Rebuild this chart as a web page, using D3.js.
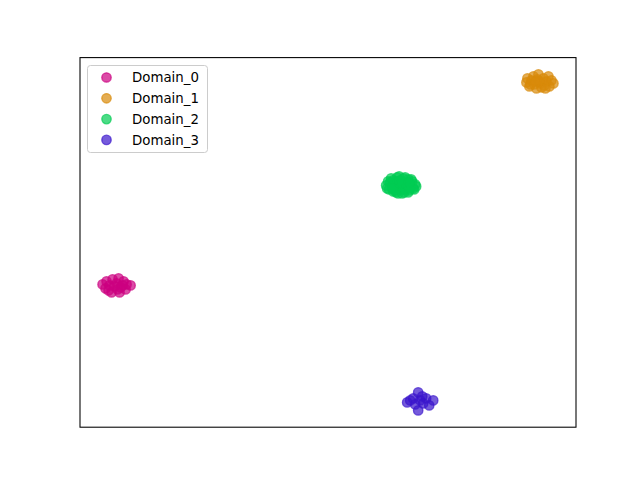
<!DOCTYPE html>
<html><head><meta charset="utf-8">
<script src="https://cdn.jsdelivr.net/npm/d3@7"></script>
<style>body{margin:0;background:#fff}svg{display:block}</style>
</head><body>
<svg id="chart" width="640" height="480"></svg>
<script>
const categories = ["Domain_0","Domain_1","Domain_2","Domain_3"];
const colors = ["#cc0080","#d98a0a","#00cc52","#3a16cc"];

const d0x = [-19.7,-19.4,-19.3,-19.0,-18.8,-18.7,-18.5,-18.3,-18.1,-18.0,-17.9,-17.6,-17.4,-17.3,-16.9,-19.1,-18.2,-17.7];
const d0y = [-3.4,-3.8,-3.1,-3.5,-4.2,-2.9,-3.6,-3.3,-2.8,-4.2,-3.7,-3.1,-3.9,-3.4,-3.5,-4.0,-3.9,-3.5];
const d1x = [22.6,22.7,22.9,23.1,23.3,23.4,23.6,23.7,23.8,24.0,24.1,24.3,24.4,24.6,24.8,24.9,25.1,25.3,23.0,23.9,24.5,23.5];
const d1y = [16.8,17.2,16.4,17.0,17.4,16.6,16.2,17.1,17.6,16.7,16.3,17.2,16.5,16.9,17.4,16.4,17.0,16.7,16.6,16.9,16.2,16.9];
const d2x = [8.6,8.8,8.9,9.1,9.2,9.3,9.5,9.6,9.7,9.8,9.9,10.0,10.1,10.2,10.3,10.4,10.5,10.6,10.8,10.9,11.0,11.2,11.3,11.5,11.6,9.4,10.7,10.0,
             8.7,9.0,9.3,9.6,9.9,10.2,10.5,10.8,11.1,11.4,9.5,9.8,10.1,10.4,10.7,11.0,9.2,10.9];
const d2y = [6.5,6.9,6.1,7.2,6.5,5.9,6.8,6.3,7.3,5.7,6.6,7.0,6.1,6.5,7.2,5.8,6.8,6.3,7.1,6.0,6.6,6.9,6.2,6.6,6.4,6.5,6.5,6.4,
             6.2,6.8,7.0,5.8,7.4,5.7,7.3,5.8,7.1,6.1,6.0,6.9,6.7,6.1,6.4,6.2,6.2,6.8];
const d3x = [10.7,11.3,11.8,12.0,12.6,13.3,11.8,12.9,12.3,11.5,11.0,12.2];
const d3y = [-15.2,-14.8,-14.2,-15.0,-14.8,-15.0,-16.0,-15.5,-15.3,-15.4,-15.0,-14.6];

const seriesX = [d0x,d1x,d2x,d3x];
const seriesY = [d0y,d1y,d2y,d3y];

const svg = d3.select("#chart");
const L = 80, R = 576, T = 57.6, B = 427.2;

const allX = seriesX.flat(), allY = seriesY.flat();
const [xmin,xmax] = d3.extent(allX), [ymin,ymax] = d3.extent(allY);
const px = (xmax-xmin)*0.05, py = (ymax-ymin)*0.05;
const x = d3.scaleLinear().domain([xmin-px, xmax+px]).range([L, R]);
const y = d3.scaleLinear().domain([ymin-py, ymax+py]).range([B, T]);

const points = [];
categories.forEach((c,i)=>{
  seriesX[i].forEach((v,j)=>points.push({c:i, x:v, y:seriesY[i][j]}));
});

svg.append("g").selectAll("circle").data(points).join("circle")
  .attr("cx", d=>x(d.x)).attr("cy", d=>y(d.y)).attr("r", 4.7)
  .attr("fill", d=>colors[d.c]).attr("stroke", d=>colors[d.c])
  .attr("stroke-width", 1.33).attr("fill-opacity",0.7).attr("stroke-opacity",0.7);

svg.append("rect").attr("x",L).attr("y",T).attr("width",R-L).attr("height",B-T)
  .attr("fill","none").attr("stroke","#000").attr("stroke-width",1.07);

// legend
const lg = svg.append("g");
lg.append("rect").attr("x",87.5).attr("y",65.5).attr("width",120).attr("height",87)
  .attr("rx",3).attr("fill","#fff").attr("fill-opacity",0.8)
  .attr("stroke","#cccccc").attr("stroke-width",1);
categories.forEach((c,i)=>{
  const yy = 77.5 + i*20.8;
  lg.append("circle").attr("cx",106.5).attr("cy",yy).attr("r",4.7)
    .attr("fill",colors[i]).attr("stroke",colors[i]).attr("stroke-width",1.33)
    .attr("fill-opacity",0.7).attr("stroke-opacity",0.7);
  lg.append("text").attr("x",132).attr("y",yy+4.8).text(c)
    .attr("font-family","DejaVu Sans").attr("font-size","13.33px").attr("fill","#000");
});
</script>
</body></html>
